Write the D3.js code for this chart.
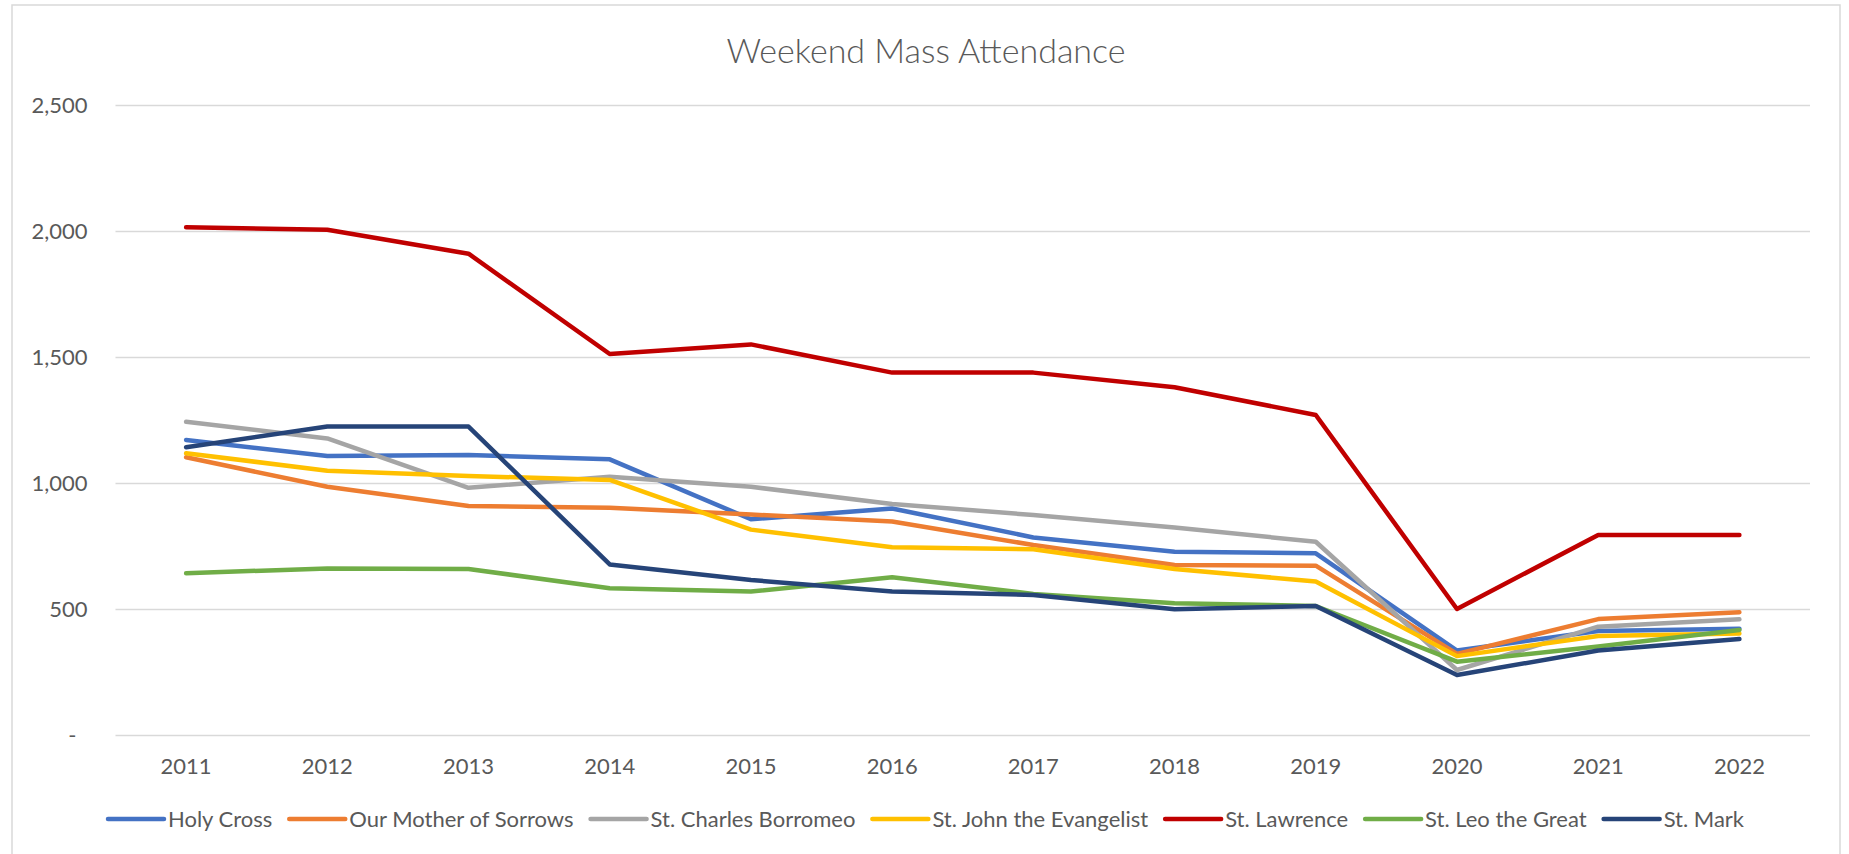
<!doctype html>
<html>
<head>
<meta charset="utf-8">
<script src="https://cdnjs.cloudflare.com/ajax/libs/d3/7.8.5/d3.min.js"></script>
<style>
body { margin: 0; background: #fff; }
text { font-family: Lato, "Open Sans", sans-serif; fill: #595959; }
.grid line { stroke: #d9d9d9; stroke-width: 1.5px; }
.grid path { display: none; }
.series { fill: none; stroke-width: 4.5px; stroke-linejoin: round; stroke-linecap: round; }
</style>
</head>
<body>
<svg id="chart" width="1849" height="854"></svg>
<script>
var years = ["2011","2012","2013","2014","2015","2016","2017","2018","2019","2020","2021","2022"];
var yTicks = [0, 500, 1000, 1500, 2000, 2500];

var names = ["Holy Cross", "Our Mother of Sorrows", "St. Charles Borromeo", "St. John the Evangelist",
             "St. Lawrence", "St. Leo the Great", "St. Mark"];
var colors = ["#4472C4", "#ED7D31", "#A5A5A5", "#FFC000", "#C00000", "#70AD47", "#264478"];

var holyCross      = [1171, 1107, 1111, 1094, 856, 899, 784, 727, 721, 335, 413, 422];
var motherSorrows  = [1102, 985, 909, 902, 875, 847, 754, 675, 672, 322, 460, 487];
var charlesBorro   = [1243, 1177, 981, 1025, 985, 917, 873, 823, 767, 258, 430, 459];
var johnEvangelist = [1118, 1049, 1028, 1012, 815, 745, 737, 659, 609, 313, 393, 403];
var lawrence       = [2015, 2005, 1910, 1512, 1550, 1438, 1438, 1380, 1270, 500, 794, 794];
var leoGreat       = [642, 661, 659, 582, 569, 626, 560, 523, 512, 291, 351, 417];
var stMark         = [1142, 1224, 1224, 677, 615, 569, 556, 499, 512, 238, 335, 381];

var seriesValues = [holyCross, motherSorrows, charlesBorro, johnEvangelist, lawrence, leoGreat, stMark];

var svg = d3.select("#chart");

// chart frame
svg.append("rect")
  .attr("x", 12).attr("y", 5)
  .attr("width", 1828).attr("height", 860)
  .attr("fill", "none")
  .attr("stroke", "#d9d9d9")
  .attr("stroke-width", 1.5);

var plotLeft = 115.5, plotRight = 1810, plotTop = 105, plotBottom = 735;

var x = d3.scaleBand().domain(years).range([plotLeft, plotRight]);
var y = d3.scaleLinear().domain([0, 2500]).range([plotBottom, plotTop]);

// gridlines
svg.append("g")
  .attr("class", "grid")
  .attr("transform", "translate(" + plotLeft + ",0)")
  .call(d3.axisLeft(y).tickValues(yTicks).tickSize(-(plotRight - plotLeft)).tickFormat(""));

// y labels
var yAxis = svg.append("g")
  .attr("transform", "translate(" + plotLeft + ",0)")
  .call(d3.axisLeft(y).tickValues(yTicks).tickSize(0).tickPadding(28)
    .tickFormat(d => d === 0 ? "-" : d3.format(",")(d)));
yAxis.select(".domain").remove();
yAxis.selectAll("text")
  .style("font-size", "22px")
  .attr("fill", "#595959")
  .attr("dx", d => d === 0 ? "-11px" : null);

// x labels
var xAxis = svg.append("g")
  .attr("transform", "translate(0," + plotBottom + ")")
  .call(d3.axisBottom(x).tickSize(0));
xAxis.select(".domain").remove();
xAxis.selectAll("text")
  .style("font-size", "22px")
  .attr("fill", "#595959")
  .attr("y", 39)
  .attr("dy", null);

// lines
var line = d3.line()
  .x((d, i) => x(years[i]) + x.bandwidth() / 2)
  .y(d => y(d));

svg.append("g")
  .selectAll("path")
  .data(seriesValues)
  .enter()
  .append("path")
  .attr("class", "series")
  .attr("stroke", (d, i) => colors[i])
  .attr("d", line);

// title
svg.append("text")
  .attr("x", 926)
  .attr("y", 63)
  .attr("text-anchor", "middle")
  .style("font-size", "34px")
  .style("font-weight", 300)
  .text("Weekend Mass Attendance");

// legend
var legend = svg.append("g");
var items = legend.selectAll("g")
  .data(names)
  .enter()
  .append("g");

items.append("line")
  .attr("x1", 0).attr("x2", 56)
  .attr("y1", 819).attr("y2", 819)
  .attr("stroke", (d, i) => colors[i])
  .attr("stroke-width", 4.5)
  .attr("stroke-linecap", "round");

items.append("text")
  .attr("x", 60)
  .attr("y", 827)
  .style("font-size", "22px")
  .text(d => d);

var pos = 0;
items.each(function () {
  var g = d3.select(this);
  g.attr("transform", "translate(" + pos + ",0)");
  pos += 60 + g.select("text").node().getComputedTextLength() + 17;
});
var total = pos - 17;
legend.attr("transform", "translate(" + (926 - total / 2) + ",0)");
</script>
</body>
</html>
